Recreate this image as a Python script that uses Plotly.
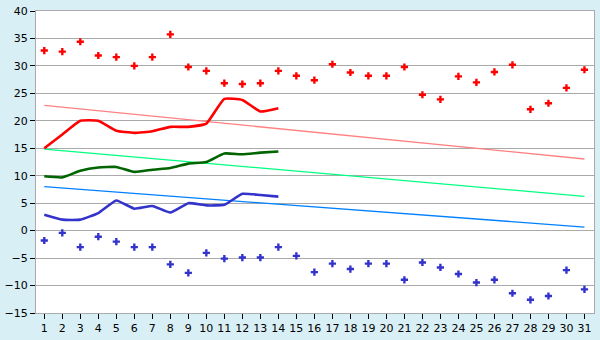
import plotly.graph_objects as go

days = list(range(1, 32))
tick_labels = [str(d) for d in days]

max_points = [32.8, 32.6, 34.4, 31.9, 31.6, 30.0, 31.6, 35.75, 29.8, 29.1,
              26.85, 26.7, 26.85, 29.1, 28.2, 27.4, 30.3, 28.8, 28.2, 28.2,
              29.8, 24.75, 23.9, 28.1, 27.0, 28.9, 30.2, 22.1, 23.2, 26.0, 29.3]
min_points = [-1.8, -0.4, -3.0, -1.1, -2.0, -3.0, -3.0, -6.15, -7.7, -4.05,
              -5.1, -4.9, -4.9, -3.0, -4.6, -7.55, -6.0, -7.0, -6.0, -6.0,
              -8.95, -5.8, -6.7, -7.9, -9.45, -8.95, -11.4, -12.6, -11.9, -7.2, -10.7]

line_days = list(range(1, 15))
max_line = [15.0, 17.5, 20.0, 20.0, 18.2, 17.8, 18.1, 18.9, 18.9, 19.5, 24.0, 23.8, 21.7, 22.3]
mean_line = [9.9, 9.7, 10.9, 11.5, 11.6, 10.7, 11.1, 11.4, 12.2, 12.5, 14.05, 13.9, 14.2, 14.4]
min_line = [2.9, 2.0, 2.0, 3.2, 5.5, 4.0, 4.5, 3.3, 5.0, 4.6, 4.7, 6.7, 6.5, 6.2]

trend_days = [1, 31]
max_trend = [22.8, 13.05]
mean_trend = [14.85, 6.25]
min_trend = [8.0, 0.65]

y_ticks = list(range(-15, 41, 5))

fig = go.Figure()
fig.add_trace(go.Scatter(x=trend_days, y=max_trend, mode="lines",
                         line=dict(color="#ff8080", width=1.3)))
fig.add_trace(go.Scatter(x=trend_days, y=mean_trend, mode="lines",
                         line=dict(color="#00ff80", width=1.3)))
fig.add_trace(go.Scatter(x=trend_days, y=min_trend, mode="lines",
                         line=dict(color="#0080ff", width=1.3)))
fig.add_trace(go.Scatter(x=line_days, y=max_line, mode="lines",
                         line=dict(color="#ff0000", width=2.6, shape="spline", smoothing=0.4)))
fig.add_trace(go.Scatter(x=line_days, y=mean_line, mode="lines",
                         line=dict(color="#006400", width=2.6, shape="spline", smoothing=0.4)))
fig.add_trace(go.Scatter(x=line_days, y=min_line, mode="lines",
                         line=dict(color="#3333cc", width=2.6, shape="spline", smoothing=0.4)))
fig.add_trace(go.Scatter(x=days, y=max_points, mode="markers",
                         marker=dict(color="#ff0000", symbol="cross", size=6, line=dict(width=0))))
fig.add_trace(go.Scatter(x=days, y=min_points, mode="markers",
                         marker=dict(color="#3333cc", symbol="cross", size=6, line=dict(width=0))))

fig.update_layout(
    width=600, height=340,
    margin=dict(l=26, r=5, t=5, b=20),
    paper_bgcolor="#d9eff6",
    plot_bgcolor="#ffffff",
    showlegend=False,
    font=dict(family="DejaVu Sans", size=11, color="#000000"),
    xaxis=dict(range=[0.54, 31.53], tickmode="array", tickvals=days, ticktext=tick_labels,
               showgrid=False, zeroline=False, ticks="outside", ticklen=5, tickcolor="#000000",
               showline=True, linecolor="#aaaaaa", linewidth=1, mirror=True,
               tickfont=dict(size=11)),
    yaxis=dict(range=[-15, 40], tickmode="array", tickvals=y_ticks,
               ticktext=[str(v).replace("-", "\u2212") for v in y_ticks],
               ticklabeloverflow="allow",
               showgrid=True, gridcolor="#aaaaaa", gridwidth=1, zeroline=False,
               ticks="outside", ticklen=5, tickcolor="#000000",
               showline=True, linecolor="#aaaaaa", linewidth=1, mirror=True,
               tickfont=dict(size=11)),
)

fig.write_html("out.html")
